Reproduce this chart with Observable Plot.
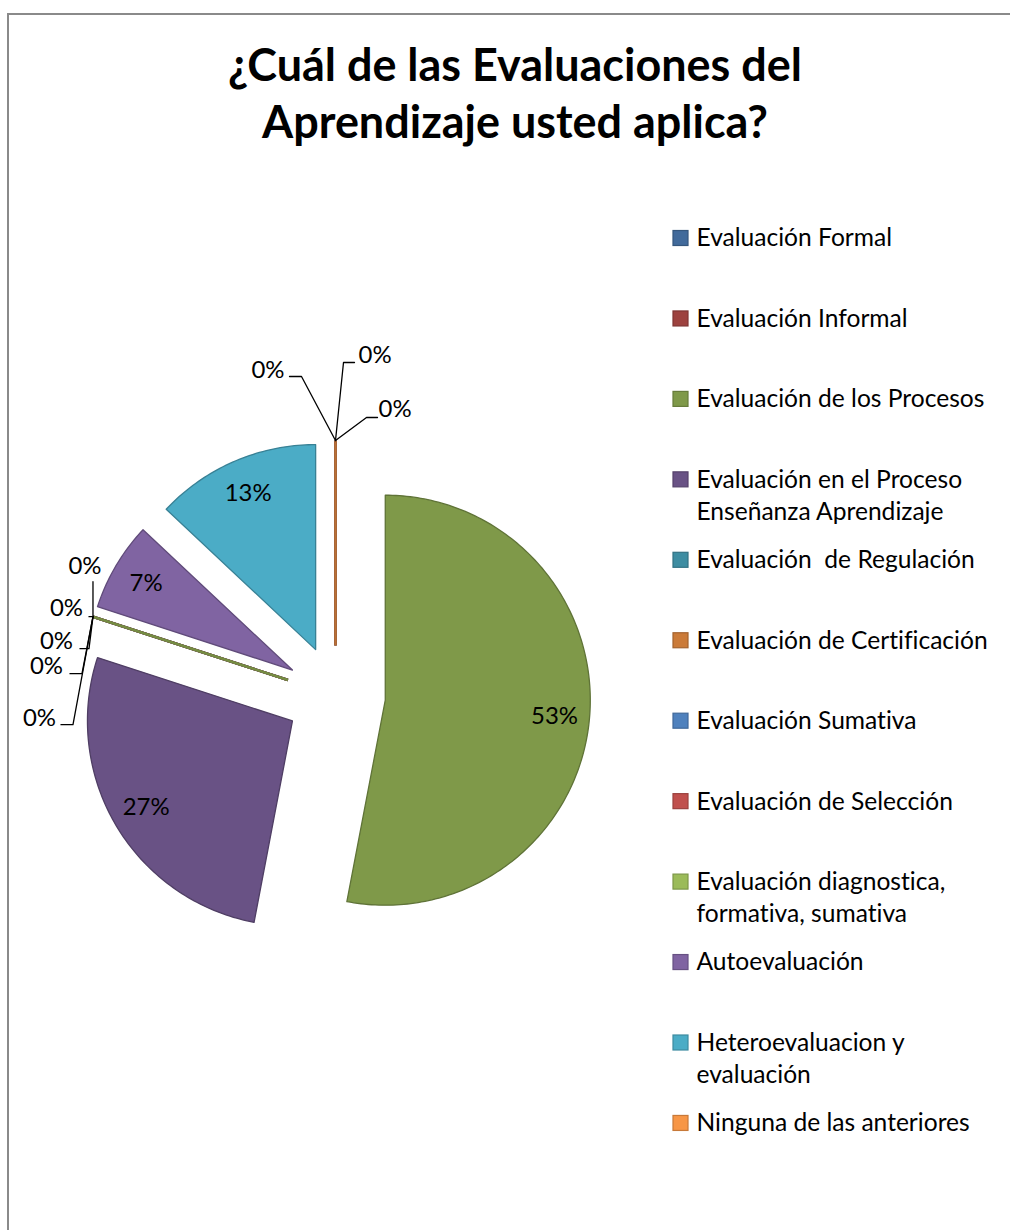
<!DOCTYPE html>
<html>
<head>
<meta charset="utf-8">
<script src="https://cdn.jsdelivr.net/npm/d3@7"></script>
<script src="https://cdn.jsdelivr.net/npm/@observablehq/plot@0.6"></script>
<style>
  html, body { margin: 0; padding: 0; background: #fff; }
  #page { position: relative; width: 1010px; height: 1230px; overflow: hidden; background: #fff; }
  #frame { position: absolute; left: 7px; top: 13px; width: 1100px; height: 1300px;
           border-top: 2px solid #8a8a8a; border-left: 2px solid #8a8a8a; box-sizing: border-box; }
  #title { position: absolute; left: 20px; top: 36px; width: 990px; text-align: center;
           font-family: Lato, "Open Sans", sans-serif; font-weight: bold; color: #000; line-height: 57px;
           font-variant-ligatures: none; font-feature-settings: "liga" 0, "clig" 0; }
  #chart { position: absolute; left: 0; top: 180px; }
  #chart svg text { white-space: pre; font-variant-ligatures: none; font-feature-settings: "liga" 0, "clig" 0; }
</style>
</head>
<body>
<div id="page">
  <div id="frame"></div>
  <div id="title"></div>
  <div id="chart"></div>
</div>
<script>
// ---------------- DATA ----------------
const titleLines = ["¿Cuál de las Evaluaciones del", "Aprendizaje usted aplica?"];
const categories = [
  "Evaluación Formal",
  "Evaluación Informal",
  "Evaluación de los Procesos",
  "Evaluación en el Proceso Enseñanza Aprendizaje",
  "Evaluación  de Regulación",
  "Evaluación de Certificación",
  "Evaluación Sumativa",
  "Evaluación de Selección",
  "Evaluación diagnostica, formativa, sumativa",
  "Autoevaluación",
  "Heteroevaluacion y evaluación",
  "Ninguna de las anteriores"
];
const percents = [0, 0, 53, 27, 0, 0, 0, 0, 0, 7, 13, 0];
const colors = ["#416a9b", "#9d423f", "#7f9949", "#695285", "#3e8da2", "#cb7b39",
                "#4f81bd", "#c0504d", "#9bbb59", "#8064a2", "#4bacc6", "#f79646"];

// ---------------- LAYOUT ----------------
const FONT = 'Lato, "Open Sans", sans-serif';
const pie = {cx: 335, cy: 695, r: 205, explode: 50, labelDist: 170};
const legend = {swatchX: 673, swatch: 15, textX: 696, y0: 238, step: 80.45, lineH: 32.5, maxW: 305};
// leader-line layout for the 0% labels, relative to the outer end of each empty slice
const zeroLeaderLayout = [
  {path: [[-34, -64], [-46, -64]], text: [-51, -70], anchor: "end"},    // Formal
  {path: [[8, -78], [19, -78]],    text: [23, -85],  anchor: "start"},  // Informal
  {path: [[0, -35]],               text: [-8, -50],  anchor: "middle"}, // Regulación
  {path: [[-4, 0]],                text: [-10, -8],  anchor: "end"},    // Certificación
  {path: [[-4, 32], [-13, 32]],    text: [-20, 25],  anchor: "end"},    // Sumativa
  {path: [[-11, 57], [-23, 57]],   text: [-30, 50],  anchor: "end"},    // Selección
  {path: [[-20, 108], [-32, 108]], text: [-37, 102], anchor: "end"},    // diagnostica
  {path: [[31, -23], [42, -23]],   text: [43, -31],  anchor: "start"}   // Ninguna
];

// ---------------- FONT FITTING ----------------
const ctx = document.createElement("canvas").getContext("2d");
function textW(t, size, weight = "normal") { ctx.font = `${weight} ${size}px ${FONT}`; return ctx.measureText(t).width; }
const titleSize = 100 * 574 / textW(titleLines[0], 100, "bold");
const legendSize = 100 * 288 / textW("Evaluación de los Procesos", 100);
const labelSize = 100 * 47 / textW("53%", 100);

const titleEl = document.getElementById("title");
titleEl.style.fontSize = titleSize + "px";
titleEl.innerHTML = titleLines.map(s => s.replace(/&/g, "&amp;")).join("<br>");

function wrap(text, size, maxW) {
  const words = text.split(" ");
  const lines = [];
  let cur = "";
  words.forEach((w, k) => {
    const cand = k === 0 ? w : cur + " " + w;
    if (k > 0 && w !== "" && textW(cand, size) > maxW) { lines.push(cur); cur = w; }
    else cur = cand;
  });
  lines.push(cur);
  return lines;
}

// ---------------- GEOMETRY FROM DATA ----------------
const arcs = d3.pie().value(d => d).sort(null)(percents);
const slices = arcs.map((a, i) => {
  const mid = (a.startAngle + a.endAngle) / 2;
  const ax = pie.cx + pie.explode * Math.sin(mid);
  const ay = pie.cy - pie.explode * Math.cos(mid);
  return {
    i, name: categories[i], value: percents[i], a0: a.startAngle, a1: a.endAngle, mid, ax, ay,
    ox: ax + pie.r * Math.sin(mid), oy: ay - pie.r * Math.cos(mid),
    fill: colors[i], stroke: d3.color(colors[i]).darker(0.8).formatHex()
  };
});
const filled = slices.filter(s => s.value > 0);
const empty = slices.filter(s => s.value === 0);

const polyPts = filled.flatMap(s => {
  const n = Math.max(2, Math.ceil((s.a1 - s.a0) / (Math.PI / 180)));
  const pts = [{name: s.name, x: s.ax, y: s.ay, fill: s.fill, stroke: s.stroke}];
  for (let k = 0; k <= n; k++) {
    const t = s.a0 + (s.a1 - s.a0) * k / n;
    pts.push({name: s.name, x: s.ax + pie.r * Math.sin(t), y: s.ay - pie.r * Math.cos(t), fill: s.fill, stroke: s.stroke});
  }
  return pts;
});

const pctLabels = filled.map(s => ({
  text: s.value + "%",
  x: s.ax + pie.labelDist * Math.sin(s.mid),
  y: s.ay - pie.labelDist * Math.cos(s.mid)
}));

const zeroLabels = empty.map((s, k) => {
  const L = zeroLeaderLayout[k];
  return {id: k, text: s.value + "%", x: s.ox + L.text[0], y: s.oy + L.text[1], anchor: L.anchor,
          pts: [[s.ox, s.oy], ...L.path.map(([dx, dy]) => [s.ox + dx, s.oy + dy])]};
});
const leaderPts = zeroLabels.flatMap(z => z.pts.map(([x, y]) => ({id: z.id, x, y})));

const legendItems = categories.map((c, i) => ({
  name: c, color: colors[i], stroke: d3.color(colors[i]).darker(0.6).formatHex(),
  y: legend.y0 + i * legend.step, lines: wrap(c, legendSize, legend.maxW)
}));
const legendLines = legendItems.flatMap(d => d.lines.map((t, k) => ({text: t, y: d.y + k * legend.lineH})));

const zeroTextMarks = ["start", "middle", "end"].map(a =>
  Plot.text(zeroLabels.filter(z => z.anchor === a), {x: "x", y: "y", text: "text", textAnchor: a, fontSize: labelSize, fill: "#000"}));

// ---------------- PLOT ----------------
const chart = Plot.plot({
  width: 1010, height: 1050, margin: 0,
  x: {type: "linear", domain: [0, 1010], range: [0, 1010], axis: null},
  y: {type: "linear", domain: [180, 1230], range: [0, 1050], axis: null},
  color: {type: "identity"},
  style: {background: "transparent", fontFamily: FONT},
  marks: [
    Plot.line(polyPts, {x: "x", y: "y", z: "name", fill: "fill", stroke: "stroke", strokeWidth: 1.3, curve: "linear-closed", strokeLinejoin: "round"}),
    Plot.link(empty, {x1: "ax", y1: "ay", x2: "ox", y2: "oy", stroke: "stroke", strokeWidth: 2.5}),
    Plot.text(pctLabels, {x: "x", y: "y", text: "text", fontSize: labelSize, fill: "#000"}),
    Plot.line(leaderPts, {x: "x", y: "y", z: "id", stroke: "#000", strokeWidth: 1.3}),
    ...zeroTextMarks,
    Plot.rect(legendItems, {x1: () => legend.swatchX, x2: () => legend.swatchX + legend.swatch,
                            y1: d => d.y - legend.swatch / 2, y2: d => d.y + legend.swatch / 2,
                            fill: "color", stroke: "stroke", strokeWidth: 1.2}),
    Plot.text(legendLines, {x: () => legend.textX, y: "y", text: "text", textAnchor: "start", fontSize: legendSize, fill: "#000"})
  ]
});
document.getElementById("chart").append(chart);
</script>
</body>
</html>
